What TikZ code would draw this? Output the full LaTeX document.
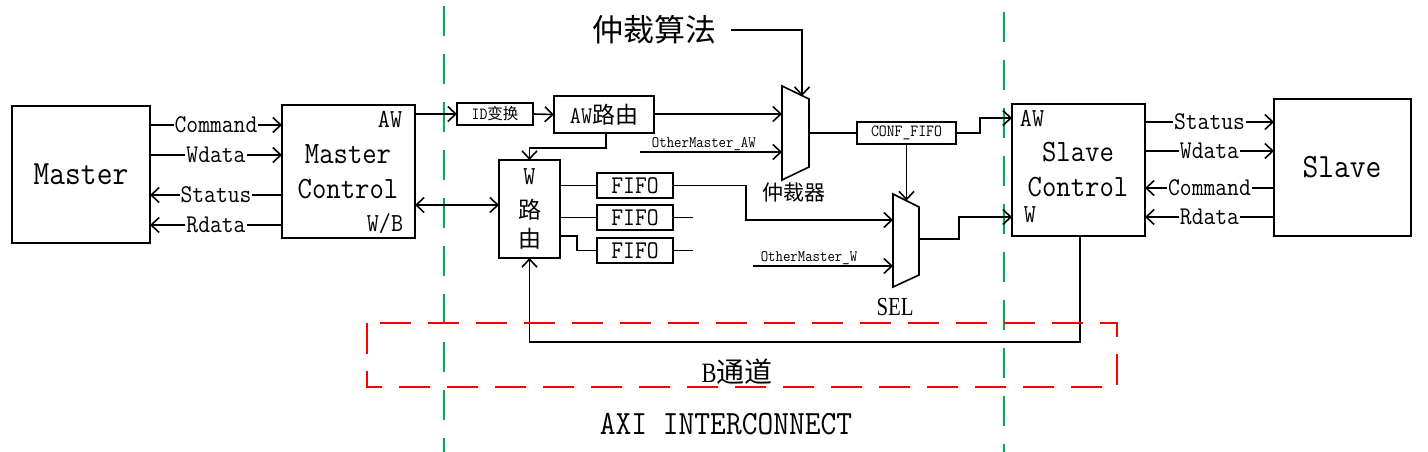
\documentclass[tikz,border=0pt]{standalone}
\usepackage{fontspec}
\setmainfont{Latin Modern Mono}[FakeStretch=0.9]
\newfontfamily\cjk{Noto Sans CJK SC}
\newfontfamily\serifL{Liberation Serif}[FakeStretch=0.8]
\usetikzlibrary{arrows.meta}
\newcommand\fsz[1]{\fontsize{#1}{#1}\selectfont}
\definecolor{ggreen}{RGB}{0,176,80}
\begin{document}
\begin{tikzpicture}[x=1pt,y=-1pt,line width=1.6pt,
  box/.style={draw,line width=1.6pt,inner sep=0pt,outer sep=0pt},
  arr/.style={-{Straight Barb[length=8pt,width=15pt]}},
  darr/.style={{Straight Barb[length=8pt,width=15pt]}-{Straight Barb[length=8pt,width=15pt]}},
  lbl/.style={fill=white,inner sep=1pt,font=\fsz{25.5}},
  txt/.style={inner sep=0pt},
  gdash/.style={draw=ggreen,line width=1.3pt,dash pattern=on 30pt off 18pt},
  rdash/.style={draw=red,line width=1.8pt,dash pattern=on 31pt off 17pt}]
\useasboundingbox (0,0) rectangle (1428,452);
% green boundaries
\draw[gdash] (444,6) -- (444,452);
\draw[gdash] (1004,12) -- (1004,452);
% boxes
\node[box,minimum width=138pt,minimum height=137pt] (master) at (81,174.5) {};
\node[txt,font=\fsz{34}] (mastert) at (81,174) {Master};
\node[box,minimum width=133pt,minimum height=133pt] (mc) at (348.5,171.5) {};
\node[txt,font=\fsz{31}] (mct1) at (348,154) {Master};
\node[txt,font=\fsz{31}] (mct2) at (348,189) {Control};
\node[txt,font=\fsz{26}] (mcaw) at (390,119) {AW};
\node[txt,font=\fsz{26}] (mcwb) at (385,224) {W/B};
\node[box,minimum width=76pt,minimum height=22pt,font=\fsz{15.5}] (id) at (495,114) {\fsz{17}ID{\cjk\fsz{15.5}变换}};
\node[box,minimum width=100pt,minimum height=37pt,font=\fsz{23}] (awr) at (604,114.5) {\fsz{24}AW{\cjk\fsz{23}路由}};
\node[box,minimum width=61pt,minimum height=98pt] (wr) at (529.5,209) {};
\node[txt,font=\fsz{26}] (wrt1) at (529.5,177) {W};
\node[txt,font=\fsz{23}] (wrt2) at (529.5,210) {\cjk 路};
\node[txt,font=\fsz{23}] (wrt3) at (529.5,239) {\cjk 由};
\node[box,minimum width=76pt,minimum height=25pt,font=\fsz{25.5}] (f1) at (635,185.5) {FIFO};
\node[box,minimum width=76pt,minimum height=25pt,font=\fsz{25.5}] (f2) at (635,217.5) {FIFO};
\node[box,minimum width=76pt,minimum height=25pt,font=\fsz{25.5}] (f3) at (635,250.5) {FIFO};
\node[box,minimum width=99pt,minimum height=22pt,font=\fsz{17}] (conf) at (906.5,133) {CONF\_FIFO};
\node[box,minimum width=133pt,minimum height=132pt] (sc) at (1078.5,170) {};
\node[txt,font=\fsz{31}] (sct1) at (1078,152) {Slave};
\node[txt,font=\fsz{31}] (sct2) at (1078,187) {Control};
\node[txt,font=\fsz{26}] (scaw) at (1032,118) {AW};
\node[txt,font=\fsz{26}] (scw) at (1030,215) {W};
\node[box,minimum width=137pt,minimum height=137pt] (slave) at (1342.5,167.5) {};
\node[txt,font=\fsz{34}] (slavet) at (1342,167) {Slave};
% muxes
\draw (782,86) -- (809,99) -- (809,167) -- (782,180) -- cycle;
\draw (893,194) -- (919,207) -- (919,275) -- (893,287) -- cycle;
\coordinate (arbin1) at (782,114);
\coordinate (arbin2) at (782,152);
\coordinate (arbtop) at (802,96);
\coordinate (arbout) at (809,133);
\coordinate (selin1) at (893,220);
\coordinate (selin2) at (893,266);
\coordinate (seltop) at (906.5,200.5);
\coordinate (selout) at (919,239);
\node[txt,font=\fsz{21}] (arblbl) at (794,193) {\cjk 仲裁器};
\node[txt,font=\fsz{26}] (sellbl) at (895,307) {\serifL SEL};
\node[txt,font=\fsz{31}] (algo) at (654,30) {\cjk 仲裁算法};
% master side
\draw[arr] (master.east |- 0,125) -- (mc.west |- 0,125) node[lbl,midway] (l1) {Command};
\draw[arr] (master.east |- 0,155) -- (mc.west |- 0,155) node[lbl,midway] (l2) {Wdata};
\draw[arr] (mc.west |- 0,195) -- (master.east |- 0,195) node[lbl,midway] (l3) {Status};
\draw[arr] (mc.west |- 0,225) -- (master.east |- 0,225) node[lbl,midway] (l4) {Rdata};
% AW path
\draw[arr] (mc.east |- id.west) -- (id.west);
\draw[arr] (id.east) -- (awr.west);
\draw[arr] (awr.east |- arbin1) -- (arbin1);
\coordinate (omaw) at (640,152);
\draw[arr] (omaw) -- (arbin2) node[pos=0.45,above=0pt,inner sep=1pt,font=\fsz{16}] (omawl) {OtherMaster\_AW};
\draw[arr] ([xshift=14pt]algo.east) -| (arbtop);
\draw (arbout) -- (conf.west);
\draw[arr] (conf.east) -- ++(24,0) |- (sc.west |- 0,118);
\draw[arr] (conf.south) -- (seltop);
\draw[arr] (selout) -- ++(40,0) |- (sc.west |- 0,217);
% W path
\draw[arr] ([xshift=2pt]awr.south) -- ++(0,15) -| (wr.north);
\draw[darr] (mc.east |- 0,205) -- (wr.west |- 0,205);
\draw (wr.east |- f1.west) -- (f1.west);
\draw (wr.east |- f2.west) -- (f2.west);
\draw (wr.east |- 0,236) -- (577,236) |- (f3.west);
\draw[arr] (f1.east) -- (746,185.5) |- (selin1);
\coordinate (f2end) at (693,217.5);
\coordinate (f3end) at (693,250.5);
\draw (f2.east) -- (f2end);
\draw (f3.east) -- (f3end);
\coordinate (omw) at (753,266);
\draw[arr] (omw) -- (selin2) node[pos=0.4,above=0pt,inner sep=1pt,font=\fsz{16}] (omwl) {OtherMaster\_W};
% B channel
\draw[arr] ([xshift=1.5pt]sc.south) -- ++(0,106) -| (wr.south);
% slave side
\draw[arr] (sc.east |- 0,122) -- (slave.west |- 0,122) node[lbl,midway] (r1) {Status};
\draw[arr] (sc.east |- 0,151) -- (slave.west |- 0,151) node[lbl,midway] (r2) {Wdata};
\draw[arr] (slave.west |- 0,188) -- (sc.east |- 0,188) node[lbl,midway] (r3) {Command};
\draw[arr] (slave.west |- 0,217) -- (sc.east |- 0,217) node[lbl,midway] (r4) {Rdata};
% red dashed region
\draw[rdash] (367,323) rectangle (1117,387);
\node[txt,font=\fsz{28}] (bch) at (737,372) {{\serifL B}{\cjk 通道}};
\node[txt,font=\fsz{34}] (axi) at (726,424) {AXI INTERCONNECT};
\end{tikzpicture}
\end{document}
